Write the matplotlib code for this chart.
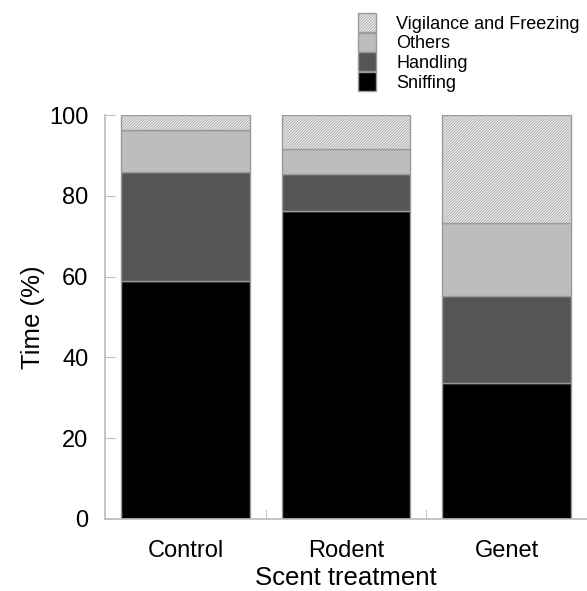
import numpy as np
import matplotlib.pyplot as plt
from matplotlib.patches import Patch

plt.rcParams['font.family'] = ['Liberation Sans', 'DejaVu Sans']
plt.rcParams['hatch.color'] = '#b4b4b4'
plt.rcParams['hatch.linewidth'] = 0.5

treatments = ['Control', 'Rodent', 'Genet']
sniffing = [58.9, 76.2, 33.7]
handling = [27.0, 9.2, 21.5]
others = [10.4, 6.3, 18.1]
vigilance = [3.7, 8.3, 26.7]

fig = plt.figure(figsize=(5.87, 5.91), dpi=100)
ax = fig.add_axes([0.179, 0.122, 0.821, 0.683])

x = np.arange(len(treatments))
w = 0.8
edge = '#9a9a9a'
bottom = np.zeros(len(treatments))
layers = [
    (sniffing, 'Sniffing', '#000000', None),
    (handling, 'Handling', '#555555', None),
    (others, 'Others', '#bdbdbd', None),
    (vigilance, 'Vigilance and Freezing', '#efefef', '////////////'),
]
handles = []
for vals, name, col, hatch in layers:
    ax.bar(x, vals, w, bottom=bottom, color=col, edgecolor=edge, linewidth=1.0, hatch=hatch)
    bottom += np.array(vals)
    handles.append(Patch(facecolor=col, edgecolor=edge, hatch=hatch, label=name))

ax.set_xlim(-0.5, 2.5)
ax.set_ylim(0, 100)
ax.set_yticks(np.arange(0, 101, 20))
ax.set_xticks(x)
ax.set_xticklabels(treatments)
ax.set_xticks([0.5, 1.5], minor=True)
ax.tick_params(axis='x', which='major', length=0, pad=15, labelsize=17)
ax.tick_params(axis='x', which='minor', direction='in', length=7, color='#bbbbbb')
ax.tick_params(axis='y', direction='in', length=7, color='#bbbbbb', labelsize=17, pad=12)
for s in ['top', 'right']:
    ax.spines[s].set_visible(False)
for s in ['left', 'bottom']:
    ax.spines[s].set_color('#bbbbbb')
    ax.spines[s].set_linewidth(1.2)
ax.set_ylabel('Time (%)', fontsize=18.5, labelpad=3)
ax.set_xlabel('Scent treatment', fontsize=18.5, labelpad=3)

fig.legend(handles=handles[::-1], loc='upper left', bbox_to_anchor=(0.598, 0.99),
           frameon=False, fontsize=13, handlelength=1.0, handleheight=1.25,
           handletextpad=1.1, labelspacing=0.0, borderaxespad=0)

fig.savefig('out.png', dpi=100)
